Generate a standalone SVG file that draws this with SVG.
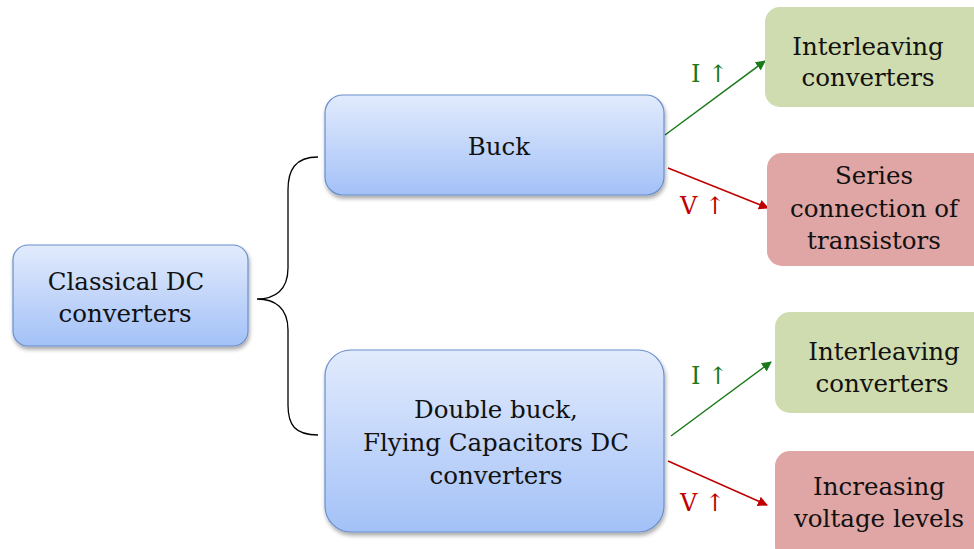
<svg xmlns="http://www.w3.org/2000/svg" width="974" height="549" viewBox="0 0 974 549">
<style>
text{font-family:'DejaVu Serif',serif}
.t{font-size:24.5px;fill:#111;text-anchor:middle}
.blue{fill:url(#bg);stroke:#6a8fcc;stroke-width:1.2;filter:url(#sh)}
.green{fill:#cfdcaf}
.red{fill:#e0a5a5}
.lg{font-size:24px;fill:#1a7a1a}
.lr{font-size:24px;fill:#c00000}
.ag{stroke:#1a7a1a;stroke-width:1.5;fill:none;marker-end:url(#mg)}
.ar{stroke:#c00000;stroke-width:1.5;fill:none;marker-end:url(#mr)}
</style>
<defs>
<linearGradient id="bg" x1="0" y1="0" x2="0" y2="1">
<stop offset="0" stop-color="#e2ebfd"/>
<stop offset="1" stop-color="#a3c1f7"/>
</linearGradient>
<filter id="sh" x="-10%" y="-10%" width="130%" height="130%">
<feGaussianBlur in="SourceAlpha" stdDeviation="2"/>
<feOffset dx="1" dy="3"/>
<feComponentTransfer><feFuncA type="linear" slope="0.35"/></feComponentTransfer>
<feMerge><feMergeNode/><feMergeNode in="SourceGraphic"/></feMerge>
</filter>
<marker id="mg" viewBox="0 0 10 10" refX="9" refY="5" markerWidth="10" markerHeight="10" markerUnits="userSpaceOnUse" orient="auto"><path d="M0,0 L10,5 L0,10 z" fill="#1a7a1a"/></marker>
<marker id="mr" viewBox="0 0 10 10" refX="9" refY="5" markerWidth="10" markerHeight="10" markerUnits="userSpaceOnUse" orient="auto"><path d="M0,0 L10,5 L0,10 z" fill="#c00000"/></marker>
</defs>
<g id="connectors">
<path d="M318,157 C295,157 288,170 288,190 L288,268 C288,290 275,299 257,299 C275,299 288,308 288,330 L288,405 C288,425 295,435 318,435" fill="none" stroke="#000" stroke-width="1.3"/>
<line class="ag" x1="665" y1="135" x2="765" y2="61"/>
<line class="ar" x1="668" y1="168" x2="768" y2="208"/>
<line class="ag" x1="671" y1="436" x2="771" y2="362"/>
<line class="ar" x1="668" y1="461" x2="767" y2="505"/>
<text class="lg" x="691" y="82">I ↑</text>
<text class="lr" x="680" y="214">V ↑</text>
<text class="lg" x="691" y="384">I ↑</text>
<text class="lr" x="680" y="511">V ↑</text>
</g>
<g id="classical">
<rect class="blue" x="13" y="245" width="235" height="101" rx="15"/>
<text class="t" x="126" y="290">Classical DC</text>
<text class="t" x="125" y="322">converters</text>
</g>
<g id="buck">
<rect class="blue" x="325" y="95" width="339" height="100" rx="18"/>
<text class="t" x="499" y="155">Buck</text>
</g>
<g id="doublebuck">
<rect class="blue" x="325" y="350" width="339" height="182" rx="26"/>
<text class="t" x="496" y="418">Double buck,</text>
<text class="t" x="496" y="451">Flying Capacitors DC</text>
<text class="t" x="496" y="484">converters</text>
</g>
<g id="interleaving1">
<rect class="green" x="765" y="7" width="225" height="100" rx="15"/>
<text class="t" x="868" y="55">Interleaving</text>
<text class="t" x="868" y="86">converters</text>
</g>
<g id="series">
<rect class="red" x="767" y="153" width="225" height="113" rx="15"/>
<text class="t" x="874" y="184">Series</text>
<text class="t" x="874" y="217">connection of</text>
<text class="t" x="874" y="249">transistors</text>
</g>
<g id="interleaving2">
<rect class="green" x="775" y="312" width="215" height="101" rx="15"/>
<text class="t" x="884" y="360">Interleaving</text>
<text class="t" x="882" y="392">converters</text>
</g>
<g id="increasing">
<rect class="red" x="775" y="451" width="215" height="110" rx="15"/>
<text class="t" x="879" y="495">Increasing</text>
<text class="t" x="879" y="527">voltage levels</text>
</g>
</svg>
